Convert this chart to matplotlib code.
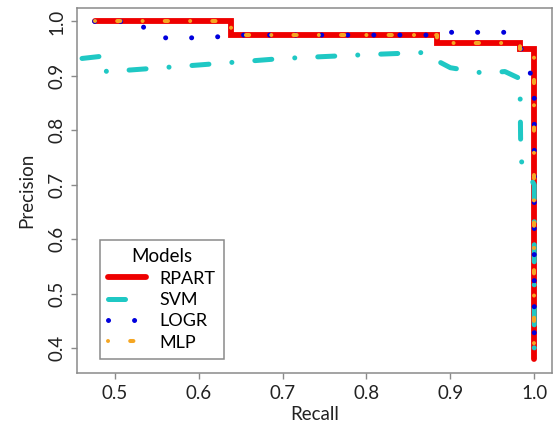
import matplotlib.pyplot as plt

# Precision-recall curves per model
rpart_recall = [0.476, 0.638, 0.638, 0.884, 0.884, 0.983, 0.983, 1.0, 1.0]
rpart_prec = [1.0, 1.0, 0.975, 0.975, 0.961, 0.961, 0.950, 0.950, 0.38]

svm_recall = [0.461, 0.490, 0.490, 0.52, 0.60, 0.70, 0.80, 0.87, 0.884, 0.90,
              0.94, 0.965, 0.983, 0.984, 1.0, 1.0]
svm_prec = [0.932, 0.937, 0.908, 0.911, 0.920, 0.932, 0.939, 0.943, 0.928, 0.915,
            0.905, 0.908, 0.895, 0.745, 0.70, 0.378]

logr_recall = [0.476, 0.53, 0.539, 0.563, 0.595, 0.626, 0.638, 0.884, 0.895,
               0.970, 0.983, 0.990, 1.0, 1.0]
logr_prec = [1.0, 1.0, 0.978, 0.969, 0.970, 0.972, 0.975, 0.975, 0.980,
             0.980, 0.956, 0.922, 0.89, 0.385]

mlp_recall = [0.476, 0.638, 0.638, 0.884, 0.884, 0.983, 0.983, 1.0, 1.0]
mlp_prec = [1.0, 1.0, 0.975, 0.975, 0.961, 0.961, 0.950, 0.950, 0.38]

plt.rcParams['font.family'] = ['Lato', 'DejaVu Sans']

fig = plt.figure(figsize=(5.58, 4.33), dpi=100)
ax = fig.add_axes([0.138, 0.139, 0.851, 0.843])

ax.plot(rpart_recall, rpart_prec, color='#ee0000', lw=4.2,
        solid_capstyle='round', solid_joinstyle='miter', label='RPART')
ax.plot(svm_recall, svm_prec, color='#1fc8c4', lw=3.6,
        linestyle=(0, (3.4, 4.6, 0.01, 4.6)), dash_capstyle='round', label='SVM')
ax.plot(logr_recall, logr_prec, color='#0000dd', lw=3.6,
        linestyle=(0, (0.01, 5.2)), dash_capstyle='round', label='LOGR')
ax.plot(mlp_recall, mlp_prec, color='#f5a623', lw=2.9,
        linestyle=(0, (0.01, 5.5, 0.8, 5.5)), dash_capstyle='round', label='MLP')

ax.set_xlim(0.455, 1.021)
ax.set_ylim(0.355, 1.025)
ax.set_xticks([0.5, 0.6, 0.7, 0.8, 0.9, 1.0])
ax.set_yticks([0.4, 0.5, 0.6, 0.7, 0.8, 0.9, 1.0])
ax.set_xticklabels(['0.5', '0.6', '0.7', '0.8', '0.9', '1.0'])
ax.set_yticklabels(['0.4', '0.5', '0.6', '0.7', '0.8', '0.9', '1.0'],
                   rotation=90, va='center')

for s in ax.spines.values():
    s.set_color('#8a8a8a')
    s.set_linewidth(1.1)
ax.tick_params(colors='#8a8a8a', labelcolor='#222222', labelsize=13.5,
               length=4.5, width=1.0, pad=4)

ax.set_xlabel('Recall', fontsize=13.5, color='#222222', labelpad=3)
ax.set_ylabel('Precision', fontsize=13.5, color='#222222', labelpad=9)

leg = ax.legend(title='Models', loc='lower left', bbox_to_anchor=(0.048, 0.038),
                fontsize=13, title_fontsize=13.5, fancybox=False,
                edgecolor='#8a8a8a', framealpha=1, handlelength=2.1,
                handletextpad=0.75, labelspacing=0.3, borderpad=0.45,
                borderaxespad=0)
leg.get_frame().set_linewidth(1.1)

fig.savefig('out.png', dpi=100)
